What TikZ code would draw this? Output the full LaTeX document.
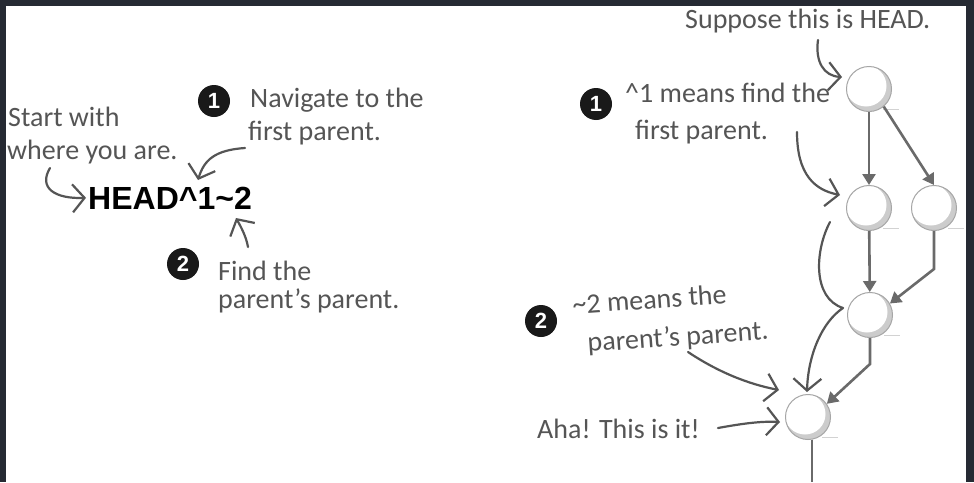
\documentclass[tikz,border=0pt]{standalone}
\usepackage{fontspec}
\setmainfont{Carlito}
\newfontfamily\boldsans{Liberation Sans}
\usetikzlibrary{arrows.meta}
\definecolor{frame}{HTML}{262A33}
\definecolor{ink}{HTML}{555555}
\definecolor{edgec}{HTML}{6A6A6A}
\begin{document}
\begin{tikzpicture}[x=1pt,y=-1pt,
 hw/.style={text=ink, font=\fontsize{28}{33}\selectfont, inner sep=0pt, anchor=base west},
 num/.style={circle, fill=black!90, text=white, font=\boldsans\bfseries\fontsize{22}{22}\selectfont, minimum size=32pt, inner sep=0pt},
 commit/.style={circle, minimum size=45pt, inner sep=0pt, draw=gray!70, line width=1pt,
   path picture={\fill[gray!40] (path picture bounding box.center) circle (23pt);
                 \fill[white] ([shift={(-3pt,3pt)}]path picture bounding box.center) circle (20.5pt);}},
 edge/.style={draw=edgec, line width=2.6pt, -{Triangle[length=11pt,width=13pt]}},
 plain/.style={draw=edgec, line width=2.6pt},
 hand/.style={draw=ink, line width=2.2pt, line cap=round, line join=round, -{Straight Barb[length=12pt,width=28pt]}}]
\fill[frame] (0,0) rectangle (974,482);
\fill[white] (6,6) rectangle (966,482);
\useasboundingbox (0,0) rectangle (974,482);

% ---------- left part ----------
\node[hw] (start) at (8,126) {Start with};
\node[hw] (where) at (7,159) {where you are.};
\node[num] (n1L) at (214,101) {1};
\node[hw] (nav1) at (250,107) {Navigate to the};
\node[hw] (nav2) at (248,140) {first parent.};
\node[anchor=base west, inner sep=2pt, font=\boldsans\bfseries\fontsize{32}{32}\selectfont] (head) at (86,209) {HEAD\textasciicircum 1\textasciitilde 2};
\node[num] (n2L) at (183,264) {2};
\node[hw] (find1) at (218,280) {Find the};
\node[hw] (find2) at (218,308) {parent’s parent.};

\coordinate (w0) at (50,168);
\coordinate (nv0) at (245,148);
\coordinate (nv1) at (198,180);
\coordinate (f0) at (248,247);
\coordinate (f1) at (236,218);
\draw[hand] (w0) .. controls (38,188) and (55,199) .. (head.west);
\draw[hand] (nv0) .. controls (215,150) and (204,160) .. (nv1);
\draw[hand] (f0) .. controls (246,236) and (241,227) .. (f1);

% ---------- right part ----------
\node[hw] (sup) at (685,28) {Suppose this is HEAD.};
\node[num] (n1R) at (596,104) {1};
\node[hw] (m1) at (625,102) {\textasciicircum1 means find the};
\node[hw] (m2) at (635,139) {first parent.};
\node[num] (n2R) at (541,321) {2};
\node[hw, rotate=4] (t1) at (573,314) {\textasciitilde2 means the};
\node[hw, rotate=4] (t2) at (588,352) {parent’s parent.};
\node[hw] (aha) at (537,438) {Aha! This is it!};

\node[commit] (C1) at (869,89) {};
\node[commit] (C2) at (869,208) {};
\node[commit] (C3) at (934,208) {};
\node[commit] (C4) at (870,315) {};
\node[commit] (C5) at (808,417) {};
\foreach \c in {C1,C2,C3,C4,C5}
  \draw[gray!35, line width=1pt] ([shift={(14pt,-20pt)}]\c.center) -- ++(16pt,0pt);

\coordinate (bot) at (812,482);
\draw[edge] (C1) -- (C2);
\draw[edge] (C1.-50) -- (C3.north);
\draw[edge] (C2) -- (C4);
\draw[edge] (C3.south) -- ++(0,38) -- (C4.30);
\draw[edge] (C4.south) -- ++(0,26) -- (C5.35);
\draw[plain] (C5.-80) -- (C5.-80 |- bot);

\coordinate (s0) at (818,40);
\coordinate (s1) at (842,77);
\coordinate (p0) at (797,132);
\coordinate (p1) at (840,195);
\coordinate (b0) at (830,222);
\coordinate (b1) at (843,308);
\coordinate (b2) at (807,392);
\coordinate (q0) at (688,352);
\coordinate (q1) at (779,390);
\coordinate (h0) at (718,428);
\coordinate (h1) at (780,422);
\draw[hand] (s0) .. controls (815,62) and (824,76) .. (s1);
\draw[hand] (p0) .. controls (797,175) and (815,190) .. (p1);
\draw[hand] (b0) .. controls (815,250) and (812,298) .. (b1) .. controls (822,322) and (808,355) .. (b2);
\draw[hand] (q0) .. controls (718,372) and (748,384) .. (q1);
\draw[hand] (h0) .. controls (740,424) and (760,421) .. (h1);
\end{tikzpicture}
\end{document}
